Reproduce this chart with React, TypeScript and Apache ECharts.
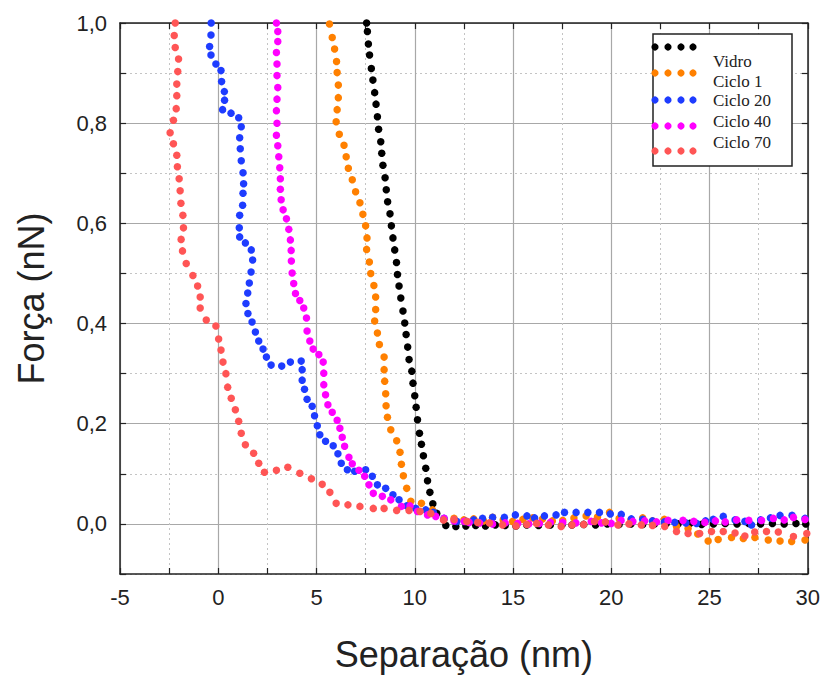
import React, { useEffect, useRef } from "react";
import * as echarts from "echarts";

const seriesNames = ["Vidro", "Ciclo 1", "Ciclo 20", "Ciclo 40", "Ciclo 70"];
const seriesColors = ["#000000", "#ff8000", "#1e3cff", "#ff00ff", "#ff5555"];

const xTicks = [-5, 0, 5, 10, 15, 20, 25, 30];
const yTickLabels = ["0,0", "0,2", "0,4", "0,6", "0,8", "1,0"];

const vidro = [
  [7.55, 1.0], [7.59, 0.983], [7.64, 0.958], [7.70, 0.936], [7.79, 0.909], [7.87, 0.886], [7.96, 0.861],
  [8.03, 0.838], [8.10, 0.813], [8.16, 0.788], [8.27, 0.763], [8.32, 0.740], [8.38, 0.716], [8.49, 0.691],
  [8.55, 0.667], [8.62, 0.643], [8.74, 0.619], [8.81, 0.595], [8.89, 0.571], [8.98, 0.547], [9.07, 0.522],
  [9.12, 0.498], [9.20, 0.475], [9.29, 0.451], [9.40, 0.425], [9.49, 0.401], [9.56, 0.378], [9.64, 0.353],
  [9.71, 0.328], [9.85, 0.305], [9.91, 0.281], [10.0, 0.256], [10.07, 0.233], [10.14, 0.208], [10.24, 0.181],
  [10.34, 0.159], [10.44, 0.136], [10.56, 0.111], [10.65, 0.086], [10.77, 0.063], [10.92, 0.040], [11.12, 0.021],
  [11.58, -0.003], [12.09, -0.005], [12.6, -0.004], [13.1, -0.003], [13.6, -0.004], [14.1, -0.002], [14.6, -0.003],
  [15.15, -0.004], [15.7, -0.002], [16.3, -0.003], [16.9, -0.002], [17.5, -0.001], [18.0, -0.002], [18.6, -0.001],
  [19.2, -0.002], [19.8, 0.0], [20.4, -0.001], [21.0, 0.0], [21.6, -0.001], [22.2, 0.0], [22.8, 0.001],
  [23.4, 0.0], [24.0, 0.001], [24.6, -0.001], [25.2, 0.0], [25.8, 0.001], [26.4, 0.0], [27.0, 0.001],
  [27.6, 0.0], [28.2, 0.001], [28.8, 0.0], [29.4, 0.001], [29.9, 0.0],
];

const ciclo1 = [
  [5.66, 0.998], [5.80, 0.971], [5.92, 0.948], [6.02, 0.923], [6.05, 0.901], [6.11, 0.876], [6.11, 0.851],
  [6.05, 0.827], [6.00, 0.803], [6.16, 0.778], [6.40, 0.756], [6.51, 0.733], [6.62, 0.710], [6.82, 0.687],
  [6.99, 0.663], [7.21, 0.641], [7.36, 0.618], [7.50, 0.595], [7.57, 0.571], [7.55, 0.548], [7.69, 0.523],
  [7.76, 0.500], [7.92, 0.476], [8.01, 0.453], [8.01, 0.428], [7.96, 0.405], [8.10, 0.381], [8.20, 0.358],
  [8.44, 0.333], [8.44, 0.308], [8.47, 0.285], [8.52, 0.260], [8.54, 0.236], [8.61, 0.213], [8.78, 0.188],
  [9.08, 0.166], [9.25, 0.143], [9.32, 0.119], [9.42, 0.096], [9.59, 0.071], [9.80, 0.045], [10.34, 0.041],
  [10.90, 0.028], [11.49, 0.009], [12.0, 0.011], [12.5, 0.008], [13.0, 0.010], [13.5, 0.006], [13.96, 0.013],
  [14.5, 0.008], [14.98, 0.005], [15.5, 0.009], [16.0, 0.012], [16.5, 0.010], [17.0, 0.006], [17.53, 0.007],
  [18.1, 0.012], [18.72, 0.016], [19.3, 0.014], [19.91, 0.023], [20.4, 0.011], [21.0, 0.008], [21.6, 0.012],
  [22.1, 0.006], [22.7, 0.009], [23.32, -0.005], [23.91, -0.009], [24.4, -0.020], [24.93, -0.034], [25.44, -0.031],
  [26.12, -0.027], [26.72, -0.029], [27.31, -0.027], [27.99, -0.032], [28.59, -0.034], [29.18, -0.035], [29.86, -0.032],
];

const ciclo20 = [
  [-0.36, 1.0], [-0.37, 0.976], [-0.44, 0.953], [-0.37, 0.936], [-0.12, 0.918], [0.14, 0.905], [0.17, 0.883],
  [0.31, 0.863], [0.32, 0.846], [0.22, 0.827], [0.65, 0.82], [1.04, 0.811], [1.17, 0.793], [1.09, 0.771],
  [1.12, 0.749], [1.17, 0.725], [1.26, 0.701], [1.29, 0.679], [1.26, 0.66], [1.24, 0.636], [1.09, 0.616],
  [1.07, 0.591], [1.09, 0.573], [1.38, 0.561], [1.68, 0.547], [1.75, 0.527], [1.67, 0.503], [1.58, 0.481],
  [1.50, 0.461], [1.41, 0.44], [1.51, 0.42], [1.72, 0.403], [1.89, 0.383], [2.06, 0.365], [2.28, 0.349],
  [2.45, 0.333], [2.69, 0.317], [3.23, 0.315], [3.67, 0.323], [4.22, 0.325], [4.27, 0.308], [4.27, 0.287],
  [4.39, 0.269], [4.52, 0.249], [4.78, 0.235], [4.90, 0.216], [5.04, 0.196], [5.17, 0.178], [5.46, 0.165],
  [5.85, 0.156], [6.09, 0.14], [6.26, 0.121], [6.57, 0.108], [6.94, 0.105], [7.50, 0.108], [7.84, 0.095],
  [8.10, 0.078], [8.52, 0.071], [8.89, 0.058], [9.20, 0.048], [9.59, 0.036], [10.05, 0.031], [10.56, 0.028],
  [10.95, 0.023], [11.49, 0.011], [12.14, 0.005], [12.6, 0.005], [13.0, 0.008], [13.45, 0.011], [13.96, 0.013],
  [14.56, 0.013], [15.12, 0.018], [15.71, 0.016], [16.1, 0.012], [16.6, 0.016], [17.19, 0.018], [17.62, 0.023],
  [18.21, 0.023], [18.81, 0.023], [19.40, 0.023], [19.95, 0.020], [20.51, 0.019], [21.02, 0.010], [21.6, 0.009],
  [22.1, 0.006], [22.7, 0.004], [23.23, 0.003], [23.8, 0.002], [24.34, 0.001], [24.8, 0.006], [25.19, 0.009],
  [25.7, 0.015], [26.3, 0.008], [26.8, 0.005], [27.14, -0.002], [27.6, 0.008], [28.1, 0.012], [28.59, 0.017],
  [29.2, 0.017], [29.86, 0.011],
];

const ciclo40 = [
  [2.96, 1.0], [3.03, 0.983], [3.03, 0.963], [2.96, 0.941], [2.99, 0.918], [2.99, 0.895], [3.03, 0.871],
  [2.99, 0.848], [2.96, 0.825], [2.99, 0.8], [2.96, 0.776], [3.03, 0.755], [3.08, 0.733], [3.13, 0.711],
  [3.16, 0.689], [3.16, 0.668], [3.2, 0.647], [3.3, 0.627], [3.47, 0.609], [3.59, 0.588], [3.67, 0.567],
  [3.71, 0.546], [3.72, 0.525], [3.76, 0.501], [3.84, 0.48], [3.93, 0.46], [4.15, 0.446], [4.35, 0.431],
  [4.49, 0.411], [4.52, 0.385], [4.66, 0.365], [4.83, 0.349], [5.12, 0.338], [5.34, 0.323], [5.37, 0.301],
  [5.37, 0.278], [5.46, 0.258], [5.58, 0.238], [5.80, 0.223], [6.05, 0.207], [6.19, 0.191], [6.31, 0.173],
  [6.43, 0.155], [6.65, 0.133], [6.82, 0.12], [7.16, 0.107], [7.45, 0.095], [7.67, 0.078], [7.89, 0.061],
  [8.35, 0.055], [8.78, 0.048], [9.32, 0.035], [9.76, 0.036], [10.14, 0.025], [10.65, 0.018], [11.07, 0.015],
  [11.49, 0.011], [12.0, 0.006], [12.52, 0.005], [12.77, 0.003], [13.3, 0.002], [13.96, 0.0], [14.6, 0.002],
  [15.24, 0.001], [15.8, 0.0], [16.34, 0.001], [16.9, 0.003], [17.53, 0.003], [18.2, 0.002], [18.98, 0.005],
  [19.5, 0.002], [20.0, 0.001], [20.5, 0.007], [21.1, 0.005], [21.7, 0.006], [22.3, 0.004], [22.89, 0.007],
  [23.65, 0.007], [24.2, 0.005], [24.76, 0.003], [25.3, 0.006], [25.8, 0.004], [26.38, 0.008], [27.0, 0.007],
  [27.65, 0.007], [28.25, 0.011], [28.8, 0.008], [29.27, 0.013], [29.86, 0.009],
];

const ciclo70 = [
  [-2.19, 1.0], [-2.24, 0.975], [-2.19, 0.951], [-2.02, 0.928], [-2.06, 0.903], [-2.11, 0.878], [-2.11, 0.855],
  [-2.14, 0.829], [-2.28, 0.806], [-2.45, 0.781], [-2.28, 0.759], [-2.11, 0.736], [-2.08, 0.713], [-1.99, 0.689],
  [-1.94, 0.665], [-1.9, 0.64], [-1.80, 0.616], [-1.77, 0.591], [-1.89, 0.568], [-1.82, 0.545], [-1.63, 0.52],
  [-1.29, 0.496], [-1.05, 0.475], [-0.92, 0.453], [-0.92, 0.431], [-0.61, 0.407], [-0.12, 0.395], [0.02, 0.369],
  [0.14, 0.347], [0.24, 0.323], [0.39, 0.3], [0.48, 0.273], [0.66, 0.251], [0.87, 0.228], [1.04, 0.205],
  [1.17, 0.181], [1.38, 0.158], [1.80, 0.141], [2.06, 0.121], [2.35, 0.103], [2.96, 0.107], [3.54, 0.113],
  [4.15, 0.101], [4.74, 0.09], [5.29, 0.079], [5.68, 0.063], [6.00, 0.041], [6.6, 0.038], [7.21, 0.035],
  [7.89, 0.031], [8.44, 0.031], [9.08, 0.027], [9.71, 0.027], [10.27, 0.025], [10.82, 0.021], [11.46, 0.008],
  [12.0, 0.009], [12.65, 0.005], [13.2, 0.003], [13.8, 0.002], [14.47, -0.002], [15.15, -0.004], [15.7, -0.001],
  [16.2, 0.001], [16.8, -0.002], [17.45, -0.005], [18.0, -0.002], [18.6, -0.001], [19.15, 0.005], [19.7, 0.004],
  [20.34, -0.002], [20.9, 0.0], [21.53, -0.002], [22.1, -0.003], [22.72, -0.005], [23.32, -0.015], [23.91, -0.019],
  [24.5, -0.019], [25.1, -0.015], [25.7, -0.015], [26.3, -0.018], [26.8, -0.024], [27.3, -0.016], [27.9, -0.015],
  [28.5, -0.016], [29.27, -0.025], [29.95, -0.019],
];

const allData = [vidro, ciclo1, ciclo20, ciclo40, ciclo70];

export default function App() {
  const ref = useRef<HTMLDivElement>(null);

  useEffect(() => {
    if (!ref.current) return;
    document.body.style.margin = "0";
    const chart = echarts.init(ref.current, null, { renderer: "svg" });

    const axisLine = { show: true, onZero: false, lineStyle: { color: "#222", width: 1.5 } };
    const tickFont = { fontFamily: "'Liberation Sans', Arial, sans-serif", fontSize: 22, color: "#222" };

    const legendItems: any[] = [
      {
        type: "rect",
        shape: { x: 653, y: 34, width: 139, height: 132 },
        style: { fill: "#fff", stroke: "#222", lineWidth: 1.5 },
        z: 100,
      },
    ];
    const symRows = [47, 73, 100, 126, 151];
    const textRows = [61, 81, 100, 121, 142];
    const dotXs = [655, 668, 681, 693];
    seriesNames.forEach((name, i) => {
      dotXs.forEach((dx) => {
        legendItems.push({
          type: "circle",
          shape: { cx: dx, cy: symRows[i], r: 3.6 },
          style: { fill: seriesColors[i] },
          z: 101,
        });
      });
      legendItems.push({
        type: "text",
        x: 713,
        y: textRows[i],
        style: {
          text: name,
          fontFamily: "'Liberation Serif', 'Times New Roman', serif",
          fontSize: 17,
          fill: "#222",
          verticalAlign: "middle",
          align: "left",
        },
        z: 101,
      });
    });

    chart.setOption({
      animation: false,
      backgroundColor: "#fff",
      grid: { left: 120, right: 15, top: 23, bottom: 106, containLabel: false },
      xAxis: [
        {
          type: "value",
          position: "bottom",
          min: xTicks[0],
          max: xTicks[xTicks.length - 1],
          interval: 5,
          axisLine,
          axisTick: { show: true, inside: true, length: 6, lineStyle: { color: "#222", width: 1.2 } },
          minorTick: { show: true, splitNumber: 2, length: 6, lineStyle: { color: "#222", width: 1.2 } },
          splitLine: { show: true, lineStyle: { color: "#a8a8a8", width: 1.2 } },
          minorSplitLine: { show: true, lineStyle: { color: "#c4c4c4", width: 1, type: [2, 3] } },
          axisLabel: { ...tickFont, margin: 12 },
          name: "Separação (nm)",
          nameLocation: "middle",
          nameGap: 62,
          nameTextStyle: { fontFamily: "'Liberation Sans', Arial, sans-serif", fontSize: 36, color: "#222" },
        },
        {
          type: "value",
          position: "top",
          min: xTicks[0],
          max: xTicks[xTicks.length - 1],
          interval: 5,
          axisLine,
          axisTick: { show: true, inside: true, length: 6, lineStyle: { color: "#222", width: 1.2 } },
          minorTick: { show: true, splitNumber: 2, length: 6, lineStyle: { color: "#222", width: 1.2 } },
          splitLine: { show: false },
          axisLabel: { show: false },
        },
      ],
      yAxis: [
        {
          type: "value",
          position: "left",
          min: -0.1,
          max: 1.0,
          interval: 0.1,
          axisLine,
          axisTick: { show: true, inside: true, length: 6, lineStyle: { color: "#222", width: 1.2 } },
          splitLine: { show: true, lineStyle: { color: ["transparent", "#a8a8a8"], width: 1.2 } },
          axisLabel: {
            ...tickFont,
            margin: 13,
            formatter: (v: number) => {
              const k = Math.round(v * 10);
              if (k < 0 || k % 2 !== 0) return "";
              return yTickLabels[k / 2];
            },
          },
          name: "Força (nN)",
          nameLocation: "middle",
          nameGap: 71,
          nameTextStyle: { fontFamily: "'Liberation Sans', Arial, sans-serif", fontSize: 36, color: "#222" },
        },
        {
          type: "value",
          position: "right",
          min: -0.1,
          max: 1.0,
          interval: 0.1,
          axisLine,
          axisTick: { show: true, inside: true, length: 6, lineStyle: { color: "#222", width: 1.2 } },
          splitLine: { show: true, lineStyle: { color: ["#c4c4c4", "transparent"], width: 1, type: [2, 3] } },
          axisLabel: { show: false },
        },
      ],
      series: allData.map((d, i) => ({
        type: "scatter",
        name: seriesNames[i],
        xAxisIndex: 0,
        yAxisIndex: 0,
        data: d,
        symbol: "circle",
        symbolSize: 7.5,
        itemStyle: { color: seriesColors[i], opacity: 1 },
        z: 3 + i,
      })),
      graphic: legendItems,
    });

    return () => chart.dispose();
  }, []);

  return <div ref={ref} style={{ width: 823, height: 680 }} />;
}
